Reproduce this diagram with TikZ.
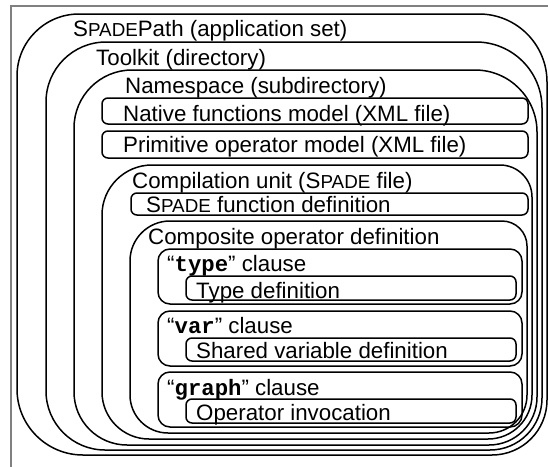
\documentclass[tikz,border=0pt]{standalone}
\usepackage{fontspec}
\setmainfont{Liberation Sans}
\setmonofont{Liberation Mono}
\newcommand\spadesc{S{\fontsize{18.8pt}{20pt}\selectfont PADE}}
\newcommand\kw[1]{“\texttt{\bfseries #1}”}
\newcommand\shellbox[8]{\draw[shell] (#1,#4-#8) -- (#1,#2+#5) arc(180:270:#5) -- (#3-#6,#2) arc(270:360:#6) -- (#3,#4-#7) arc(0:90:#7) -- (#1+#8,#4) arc(90:180:#8) -- cycle;}
\tikzset{
  shell/.style={line width=1.5pt},
  filebox/.style={draw,line width=1.5pt,rounded corners=6pt},
  clausebox/.style={draw,line width=1.5pt,rounded corners=12pt},
  lbl/.style={anchor=base west,inner sep=0pt,font=\fontsize{22.3pt}{26pt}\selectfont}
}
\begin{document}
\begin{tikzpicture}[x=1pt,y=-1pt]
                \useasboundingbox (0,0) rectangle (548,466);
                \draw[gray,line width=1.5pt] (11,470)--(11,6)--(552,6);
                \shellbox{17}{14}{547}{455}{62}{68}{55}{66}
                \shellbox{46}{42}{542}{450}{60}{66}{52}{59}
                \shellbox{74}{70}{537}{445}{58}{62}{48}{53}
                \shellbox{102}{165}{532}{439}{50}{32}{44}{47}
                \shellbox{130}{221}{527}{433}{40}{25}{38}{38}
                \draw[filebox] (102,98) rectangle (528,124);
                \draw[filebox] (102,131) rectangle (528,158);
                \draw[filebox] (131,193) rectangle (528,215);
                \draw[clausebox] (158,249) rectangle (522,304);
                \draw[clausebox] (158,311) rectangle (522,366);
                \draw[clausebox] (158,372) rectangle (522,427);
                \draw[filebox] (186,276) rectangle (516,300);
                \draw[filebox] (186,338) rectangle (516,361);
                \draw[filebox] (186,399) rectangle (516,423);
                \node[lbl] (app) at (73,36) {\spadesc Path (application set)};
                \node[lbl] (kit) at (96,65) {Toolkit (directory)};
                \node[lbl] (ns) at (125,93) {Namespace (subdirectory)};
                \node[lbl] (natf) at (123,121) {Native functions model (XML file)};
                \node[lbl] (primop) at (123,152) {Primitive operator model (XML file)};
                \node[lbl] (cu) at (132,188) {Compilation unit (\spadesc\ file)};
                \node[lbl] (fdef) at (146,212) {\spadesc\ function definition};
                \node[lbl] (cdef) at (148,244) {Composite operator definition};
                \node[lbl] (tcl) at (167,271) {\kw{type} clause};
                \node[lbl] (tdef) at (196,298) {Type definition};
                \node[lbl] (vcl) at (167,333) {\kw{var} clause};
                \node[lbl] (vdef) at (196,358) {Shared variable definition};
                \node[lbl] (gcl) at (167,395) {\kw{graph} clause};
                \node[lbl] (oinv) at (196,420) {Operator invocation};
\end{tikzpicture}
\end{document}
